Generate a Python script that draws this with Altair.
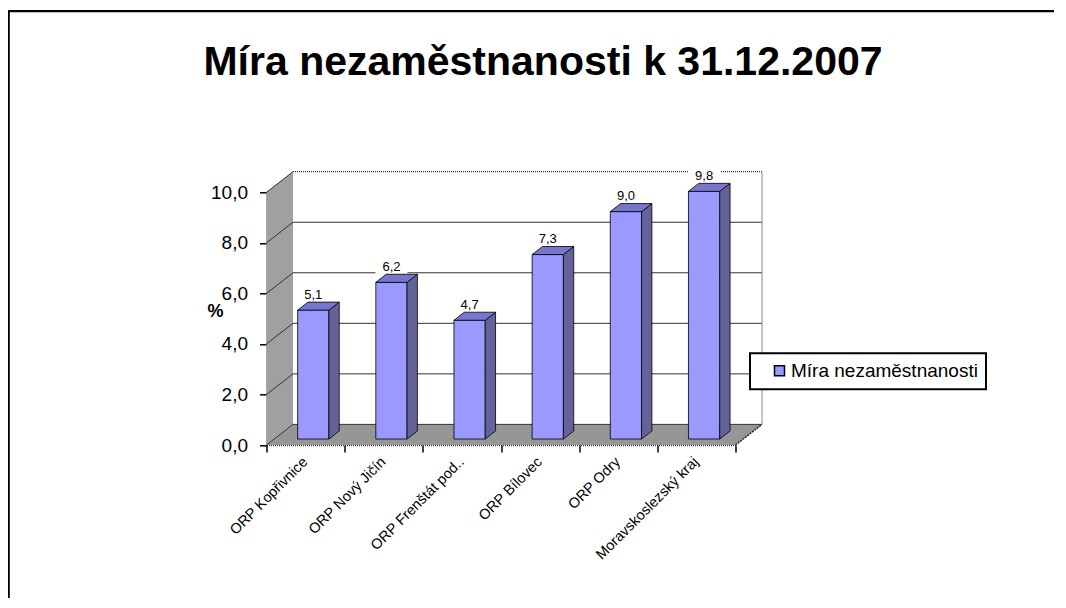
import altair as alt
import pandas as pd

# ---------------- data ----------------
categories = ["ORP Kopřivnice", "ORP Nový Jičín", "ORP Frenštát pod..",
              "ORP Bílovec", "ORP Odry", "Moravskoslezský kraj"]
values = [5.1, 6.2, 4.7, 7.3, 9.0, 9.8]
series_name = "Míra nezaměstnanosti"
y_ticks = [0, 2, 4, 6, 8, 10]
title_text = "Míra nezaměstnanosti k 31.12.2007"
y_title = "%"

# ---------------- geometry / style ----------------
FONT = "Liberation Sans"
W, H = 469, 252.7
N = len(categories)
YMAX = 10
KX = W / N
KY = H / YMAX
DXU = 26.5 / KX          # depth shift in x units
DYU = 20.6 / KY          # depth shift in y units
F0, F1 = 0.29, 0.68      # bar depth (front / back fraction)
BL, BR = 0.30, 0.70      # bar left/right within category
PAD_L, PAD_T = 258.5, 184.3
TOT_W, TOT_H = 1046, 590

FRONT = "#9999FF"
SIDE = "#636399"
TOP = "#7676CC"
WALL = "#A0A0A0"
FLOOR = "#969696"

xs = alt.Scale(domain=[0, N], nice=False, zero=False)
ys = alt.Scale(domain=[0, YMAX], nice=False, zero=False)

# bars
rows, side_rows, top_rows = [], [], []
for i, (c, v) in enumerate(zip(categories, values)):
    x0 = i + BL + F0 * DXU
    x1 = i + BR + F0 * DXU
    sh = (F1 - F0) * DXU
    rows.append(dict(cat=c, val=v, series=series_name, x0=x0, x1=x1,
                     yb=F0 * DYU, yt=F0 * DYU + v, xc=(x0 + x1) / 2,
                     ylab=v + F1 * DYU, lab=f"{v:.1f}".replace(".", ",")))
    side_rows.append(dict(cat=c, sx=x1, st=F0 * DYU + v, sb=F0 * DYU))
    side_rows.append(dict(cat=c, sx=x1 + sh, st=F1 * DYU + v, sb=F1 * DYU))
    top_rows.append(dict(cat=c, ty=F0 * DYU + v, tl=x0, tr=x1))
    top_rows.append(dict(cat=c, ty=F1 * DYU + v, tl=x0 + sh, tr=x1 + sh))
bars = pd.DataFrame(rows)
sides = pd.DataFrame(side_rows)
tops = pd.DataFrame(top_rows)
cats = pd.DataFrame(dict(cat=categories, xc=[i + 0.5 for i in range(N)]))

# walls / floor
left_wall = pd.DataFrame(dict(x=[0, DXU], y=[YMAX, YMAX + DYU], y2=[0, DYU]))
floor = pd.DataFrame(dict(y=[0, DYU], x=[0, DXU], x2=[N, N + DXU]))
back_wall = pd.DataFrame(dict(x=[DXU], x2=[N + DXU], y=[DYU], y2=[YMAX + DYU]))

grid_rows = []
for g in y_ticks[:-1]:
    for (gx, gy) in [(0, g), (DXU, g + DYU), (N + DXU, g + DYU)]:
        grid_rows.append(dict(g=g, x=gx, y=gy))
grid = pd.DataFrame(grid_rows)
top_diag = pd.DataFrame(dict(x=[0, DXU], y=[YMAX, YMAX + DYU]))
top_back = pd.DataFrame(dict(x=[DXU, N + DXU], y=[YMAX + DYU, YMAX + DYU]))
right_edge = pd.DataFrame(dict(x=[N + DXU, N + DXU], y=[DYU, YMAX + DYU]))
floor_right = pd.DataFrame(dict(x=[N, N + DXU], y=[0, DYU]))

one = pd.DataFrame(dict(a=[0]))

# ---------------- layers ----------------
back = alt.Chart(back_wall).mark_rect(fill="white").encode(
    x=alt.X("x:Q", scale=xs,
            axis=alt.Axis(values=list(range(N + 1)), labels=False, title=None,
                          grid=False, tickSize=7, tickColor="black", tickWidth=1.5,
                          domainColor="#333333", domainDash=[1, 1], domainWidth=1.5)),
    x2="x2:Q",
    y=alt.Y("y:Q", scale=ys,
            axis=alt.Axis(values=y_ticks, grid=False, tickSize=7, tickColor="black",
                          tickWidth=1.5, domainColor="#333333", domainDash=[1, 1],
                          domainWidth=1.5, labelFont=FONT, labelFontSize=19,
                          labelColor="black", labelPadding=12,
                          labelExpr="replace(format(datum.value, '.1f'), '.', ',')",
                          title=y_title, titleAngle=0, titleFont=FONT,
                          titleFontSize=18, titleFontWeight="bold",
                          titleColor="black", titleX=-51.5, titleY=118.7,
                          titleAlign="center", titleBaseline="middle")),
    y2="y2:Q",
)

lwall = alt.Chart(left_wall).mark_area(orient="vertical", color=WALL, opacity=1).encode(
    x=alt.X("x:Q", scale=xs), y=alt.Y("y:Q", scale=ys, stack=None), y2="y2:Q")

flr = alt.Chart(floor).mark_area(orient="horizontal", color=FLOOR, opacity=1).encode(
    y=alt.Y("y:Q", scale=ys), x=alt.X("x:Q", scale=xs, stack=None), x2="x2:Q")

grid_l = alt.Chart(grid).mark_line(color="#333333", strokeWidth=1).encode(
    x=alt.X("x:Q", scale=xs), y=alt.Y("y:Q", scale=ys), detail="g:N")

tdiag = alt.Chart(top_diag).mark_line(color="#333333", strokeWidth=1).encode(
    x=alt.X("x:Q", scale=xs), y=alt.Y("y:Q", scale=ys))
tback = alt.Chart(top_back).mark_line(color="#333333", strokeWidth=1.2,
                                      strokeDash=[1, 1]).encode(
    x=alt.X("x:Q", scale=xs), y=alt.Y("y:Q", scale=ys))
redge = alt.Chart(right_edge).mark_line(color="#888888", strokeWidth=1).encode(
    x=alt.X("x:Q", scale=xs), y=alt.Y("y:Q", scale=ys))
fright = alt.Chart(floor_right).mark_line(color="#222222", strokeWidth=1.5,
                                          strokeDash=[2, 1]).encode(
    x=alt.X("x:Q", scale=xs), y=alt.Y("y:Q", scale=ys))

box_shape = "M-1,-0.47L1,-0.47L1,0.47L-1,0.47Z"
lab_box = alt.Chart(bars).mark_point(shape=box_shape, size=1024, filled=True,
                                     fill="white", opacity=1, strokeWidth=0).encode(
    x=alt.X("xc:Q", scale=xs), y=alt.Y("ylab:Q", scale=ys),
    yOffset=alt.value(-8))

front = alt.Chart(bars).mark_rect(stroke="black", strokeWidth=0.8, opacity=1).encode(
    x=alt.X("x0:Q", scale=xs), x2="x1:Q",
    y=alt.Y("yb:Q", scale=ys), y2="yt:Q",
    color=alt.Color("series:N", scale=alt.Scale(range=[FRONT]),
                    legend=alt.Legend(title=None, orient="none", legendX=483.5,
                                      legendY=161, fillColor="white",
                                      strokeColor="black",
                                      padding=8, symbolType="square",
                                      symbolSize=100, symbolStrokeColor="black",
                                      symbolStrokeWidth=1.5, symbolFillColor=FRONT,
                                      symbolOffset=12, labelFont=FONT,
                                      labelFontSize=19, labelColor="black",
                                      labelOffset=2, labelLimit=400)),
)

side = alt.Chart(sides).mark_area(orient="vertical", color=SIDE, opacity=1,
                                  line=False, stroke="black",
                                  strokeWidth=0.8).encode(
    x=alt.X("sx:Q", scale=xs), y=alt.Y("st:Q", scale=ys, stack=None), y2="sb:Q",
    detail="cat:N")

top = alt.Chart(tops).mark_area(orient="horizontal", color=TOP, opacity=1,
                                stroke="black", strokeWidth=0.8).encode(
    y=alt.Y("ty:Q", scale=ys), x=alt.X("tl:Q", scale=xs, stack=None), x2="tr:Q",
    detail="cat:N")

labels = alt.Chart(bars).mark_text(font=FONT, fontSize=13, color="black",
                                   baseline="alphabetic", align="center",
                                   dy=-3.3).encode(
    x=alt.X("xc:Q", scale=xs), y=alt.Y("ylab:Q", scale=ys), text="lab:N")

cat_text = alt.Chart(cats).mark_text(font=FONT, fontSize=14.5, color="black",
                                     angle=315, align="right",
                                     baseline="middle").encode(
    x=alt.X("xc:Q", scale=xs), y=alt.value(H + 15), text="cat:N")

title = alt.Chart(one).mark_text(font=FONT, fontSize=41, fontWeight="bold",
                                 color="black", align="center",
                                 baseline="alphabetic").encode(
    x=alt.value(276.5), y=alt.value(-117.8), text=alt.value(title_text))

# outer frame: top and left edges only
frame_top = alt.Chart(one).mark_rule(color="black", strokeWidth=2.2).encode(
    x=alt.value(-PAD_L + 0.5), x2=alt.value(TOT_W - PAD_L),
    y=alt.value(-PAD_T + 3.2))
frame_left = alt.Chart(one).mark_rule(color="black", strokeWidth=2).encode(
    x=alt.value(-PAD_L + 0.8), y=alt.value(-PAD_T + 2.2),
    y2=alt.value(TOT_H - PAD_T))

chart = alt.layer(
    back, lwall, flr, grid_l, tdiag, tback, redge, fright,
    lab_box, front, side, top, labels, cat_text, title, frame_top, frame_left
).properties(
    width=W, height=H,
    autosize=alt.AutoSizeParams(type="none"),
    padding={"left": PAD_L, "top": PAD_T, "right": TOT_W - PAD_L - W,
             "bottom": TOT_H - PAD_T - H},
    background="white",
).configure_view(stroke=None).configure_legend(strokeWidth=2)

chart.save("out.html", embed_options={"renderer": "svg", "actions": False})
